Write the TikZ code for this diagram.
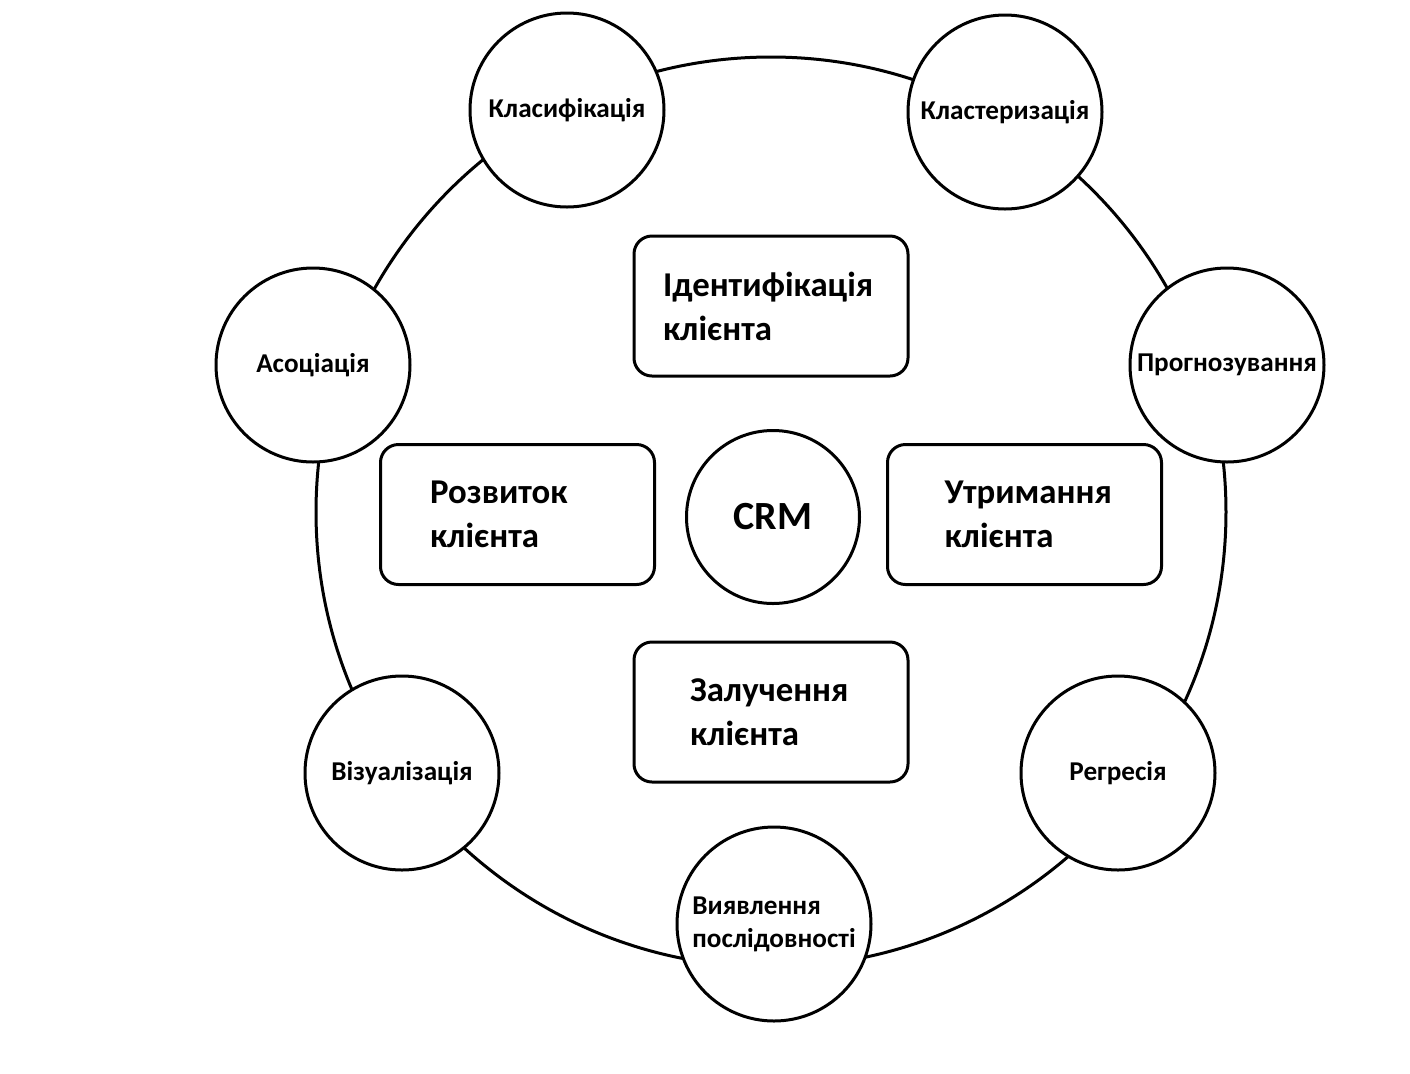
\documentclass[tikz,border=0pt]{standalone}
\usepackage{fontspec}
\setmainfont{Carlito}

\begin{document}
\begin{tikzpicture}[x=0.5pt,y=-0.5pt,
    ring/.style={circle,draw,line width=1.5pt,minimum size=455pt,inner sep=0pt},
    method/.style={circle,draw,fill=white,line width=1.5pt,minimum size=97pt,inner sep=0pt,
        align=left,font=\bfseries\fontsize{13.6}{16.5}\selectfont},
    stage/.style={draw,fill=white,rounded corners=9pt,line width=1.5pt,
        minimum width=137pt,minimum height=70pt,align=left,text width=#1,
        font=\bfseries\fontsize{17.4}{22}\selectfont},
    stage/.default=81pt]

    \useasboundingbox (0,0) rectangle (1410,1073);

    \node[ring] (ring) at (771,512) {}; % kolo metodiv

    \node[method] (klasyf) at (567,110) {Класифікація};
    \node[method] (klaster) at (1005,112) {Кластеризація};
    \node[method] (prognoz) at (1227,365) {Прогнозування};
    \node[method] (asoc) at (313,365) {Асоціація};
    \node[method] (vizual) at (402,773) {Візуалізація};
    \node[method] (regres) at (1118,773) {Регресія};
    \node[method] (poslid) at (774,924) {Виявлення\\послідовності};

    \node[circle,draw,line width=1.5pt,minimum size=86.5pt,inner sep=0pt,
        font=\bfseries\fontsize{20}{24}\selectfont] (crm) at (773,517) {CRM}; % centr

    \node[stage=108pt] (ident) at (771,306) {Ідентифікація\\клієнта};
    \node[stage=87.5pt] (rozv) at (517.5,514.5) {Розвиток\\клієнта};
    \node[stage=80pt] (utrym) at (1024.5,514.5) {Утримання\\клієнта};
    \node[stage] (zaluch) at (771,712) {Залучення\\клієнта};

\end{tikzpicture}
\end{document}
